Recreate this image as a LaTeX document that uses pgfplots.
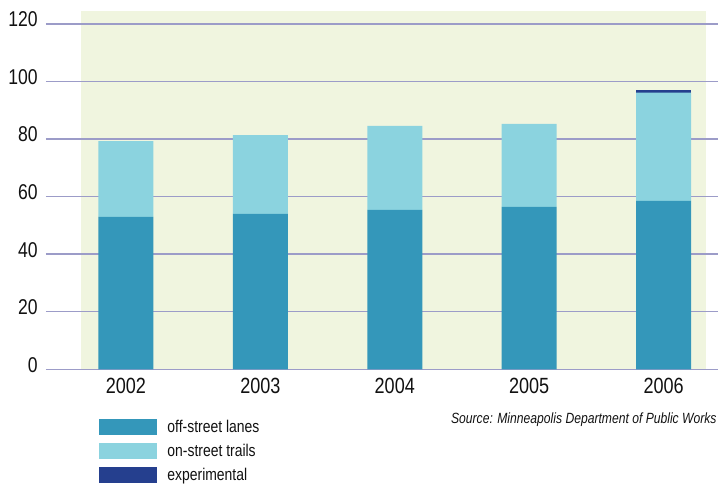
\documentclass[border=0pt]{standalone}
\usepackage{fontspec}
\setmainfont{Liberation Sans}[FakeStretch=0.82]
\usepackage{pgfplots}
\pgfplotsset{compat=1.18}
\definecolor{offst}{HTML}{3497BA}
\definecolor{onst}{HTML}{8BD3DF}
\definecolor{expc}{HTML}{253F8E}
\definecolor{bgc}{HTML}{F0F5DF}
\definecolor{gridc}{HTML}{9C9CC8}
\definecolor{txt}{HTML}{111111}
\begin{document}
\begin{tikzpicture}
\useasboundingbox (0,0) rectangle (359pt,241.5pt);
\fill[bgc] (40.5pt,56.85pt) rectangle (353pt,236pt);
\begin{axis}[
  at={(23pt,56.85pt)}, anchor=south west,
  scale only axis, width=336pt, height=179.15pt,
  xmin=-0.595, xmax=4.405, ymin=0, ymax=124.5,
  axis line style={draw=none}, tick style={draw=none},
  ybar stacked, bar width=27.5pt,
  ytick={0,20,40,60,80,100,120},
  xtick={0,1,2,3,4},
  xticklabels={2002,2003,2004,2005,2006},
  ymajorgrids, major grid style={gridc, line width=0.7pt},
  /pgf/number format/assume math mode=true,
  yticklabel style={inner sep=0pt, anchor=east, xshift=-4pt, yshift=2.25pt, font=\fontsize{10.7}{12}\selectfont, text=txt},
  xticklabel style={inner sep=0pt, anchor=north, yshift=-4.4pt, font=\fontsize{11}{12}\selectfont, text=txt},
  legend style={at={(axis description cs:0.0789,-0.1387)}, anchor=north west, draw=none, fill=none, inner sep=0pt,
    font=\fontsize{8.5}{10}\selectfont, text=txt, row sep=4pt, column sep=5pt,
    nodes={inner sep=0pt, anchor=west}},
  legend cell align=left,
]
\addplot[fill=offst, draw=none, legend image code/.code={\fill[offst] (0pt,-4pt) rectangle (29pt,4pt);}]
  coordinates {(0,53.0) (1,54.0) (2,55.4) (3,56.4) (4,58.5)};
\addlegendentry{off-street lanes}
\addplot[fill=onst, draw=none, legend image code/.code={\fill[onst] (0pt,-4pt) rectangle (29pt,4pt);}]
  coordinates {(0,26.3) (1,27.4) (2,29.2) (3,28.9) (4,37.6)};
\addlegendentry{on-street trails}
\addplot[fill=expc, draw=none, legend image code/.code={\fill[expc] (0pt,-4pt) rectangle (29pt,4pt);}]
  coordinates {(0,0) (1,0) (2,0) (3,0) (4,1.0)};
\addlegendentry{experimental}
\end{axis}
\node[anchor=north east, inner sep=0pt, text=txt, font=\fontsize{7.4}{9}\selectfont\itshape] at (358.5pt,35.5pt) {Source: Minneapolis Department of Public Works};
\end{tikzpicture}
\end{document}
